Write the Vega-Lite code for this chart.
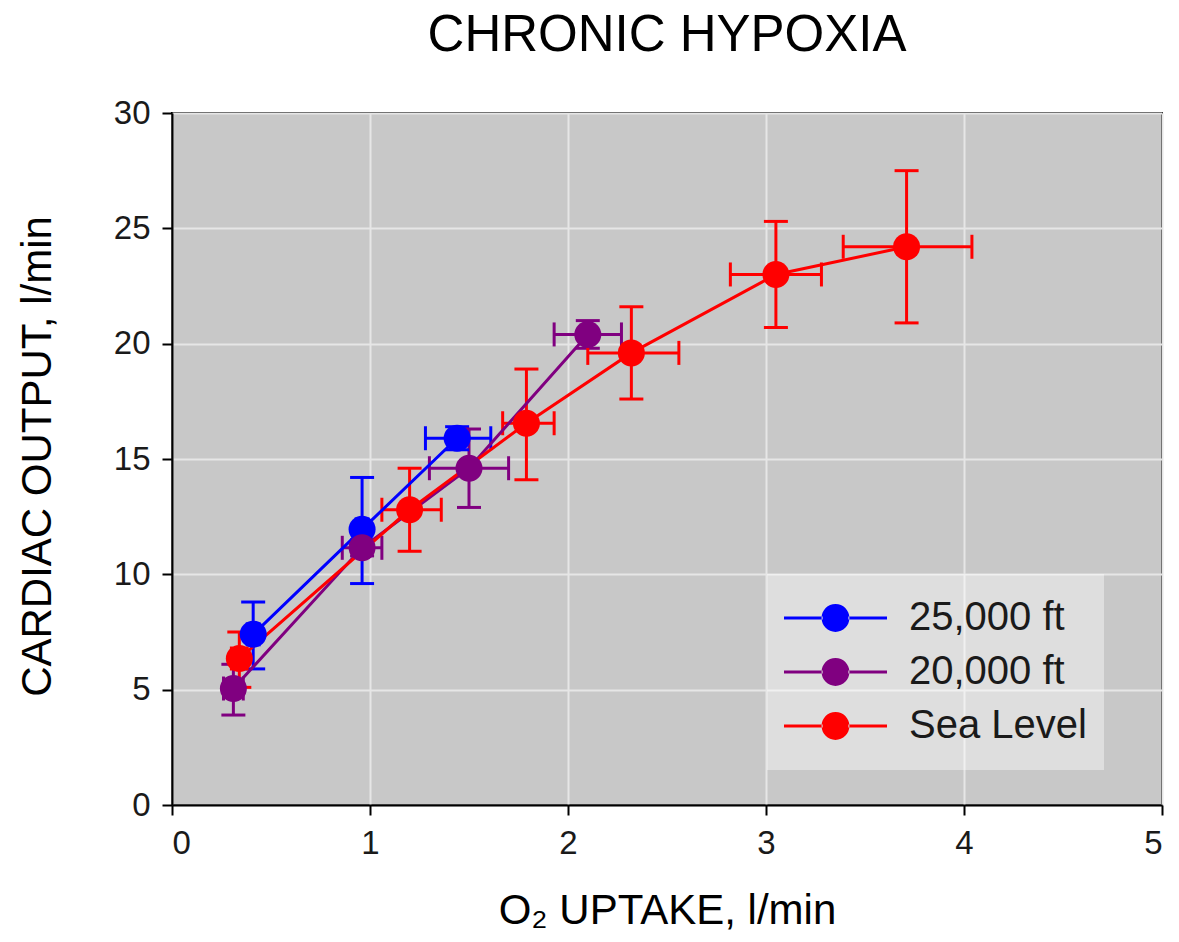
{
  "$schema": "https://vega.github.io/schema/vega-lite/v6.json",
  "width": 990,
  "height": 692,
  "autosize": {"type": "none"},
  "padding": {"left": 172, "top": 113, "right": 17, "bottom": 137},
  "background": "white",
  "title": {"text": "CHRONIC HYPOXIA", "fontSize": 51, "fontWeight": "normal", "font": "Liberation Sans", "color": "black", "anchor": "middle", "offset": 35},
  "config": {
    "font": "Liberation Sans",
    "view": {"fill": "#c8c8c8", "stroke": "black", "strokeWidth": 2},
    "axis": {
      "domainColor": "black", "domainWidth": 2, "tickColor": "black", "tickWidth": 2, "tickSize": 10,
      "labelFontSize": 33, "labelColor": "#1a1a1a", "gridColor": "#e6e6e6", "gridWidth": 2,
      "titleFontSize": 42, "titleFontWeight": "normal", "titleColor": "black"
    }
  },
  "data": {"values": [
    {"group": "25,000 ft", "x": 0.41, "y": 7.4, "xlo": 0.38, "xhi": 0.44, "ylo": 5.9, "yhi": 8.8},
    {"group": "25,000 ft", "x": 0.96, "y": 11.95, "xlo": 0.93, "xhi": 0.99, "ylo": 9.6, "yhi": 14.2},
    {"group": "25,000 ft", "x": 1.44, "y": 15.9, "xlo": 1.28, "xhi": 1.61, "ylo": 15.4, "yhi": 16.4},
    {"group": "20,000 ft", "x": 0.31, "y": 5.05, "xlo": 0.26, "xhi": 0.36, "ylo": 3.9, "yhi": 6.1},
    {"group": "20,000 ft", "x": 0.96, "y": 11.15, "xlo": 0.86, "xhi": 1.06, "ylo": 10.8, "yhi": 11.5},
    {"group": "20,000 ft", "x": 1.5, "y": 14.6, "xlo": 1.3, "xhi": 1.7, "ylo": 12.9, "yhi": 16.3},
    {"group": "20,000 ft", "x": 2.1, "y": 20.4, "xlo": 1.93, "xhi": 2.27, "ylo": 19.8, "yhi": 21.0},
    {"group": "Sea Level", "x": 0.34, "y": 6.35, "xlo": 0.3, "xhi": 0.38, "ylo": 5.1, "yhi": 7.5},
    {"group": "Sea Level", "x": 1.2, "y": 12.8, "xlo": 1.06, "xhi": 1.36, "ylo": 11.0, "yhi": 14.6},
    {"group": "Sea Level", "x": 1.79, "y": 16.55, "xlo": 1.67, "xhi": 1.93, "ylo": 14.1, "yhi": 18.9},
    {"group": "Sea Level", "x": 2.32, "y": 19.6, "xlo": 2.1, "xhi": 2.56, "ylo": 17.6, "yhi": 21.6},
    {"group": "Sea Level", "x": 3.05, "y": 23.0, "xlo": 2.82, "xhi": 3.28, "ylo": 20.7, "yhi": 25.3},
    {"group": "Sea Level", "x": 3.71, "y": 24.2, "xlo": 3.39, "xhi": 4.04, "ylo": 20.9, "yhi": 27.5}
  ]},
  "encoding": {
    "x": {"field": "x", "type": "quantitative", "scale": {"domain": [0, 5], "nice": false},
      "axis": {"values": [0, 1, 2, 3, 4, 5], "title": "O₂ UPTAKE, l/min", "labelPadding": 12, "titleBaseline": "alphabetic", "titleY": 118}},
    "y": {"field": "y", "type": "quantitative", "scale": {"domain": [0, 30], "nice": false},
      "axis": {"values": [0, 5, 10, 15, 20, 25, 30], "title": "CARDIAC OUTPUT, l/min", "labelPadding": 12, "titleX": -135, "titleY": 343, "titleBaseline": "middle"}},
    "color": {"field": "group", "type": "nominal",
      "scale": {"domain": ["25,000 ft", "20,000 ft", "Sea Level"], "range": ["#0000ff", "#800080", "#ff0000"]}}
  },
  "layer": [
    {"mark": {"type": "rule", "strokeWidth": 3},
     "encoding": {"y": {"field": "ylo", "type": "quantitative"}, "y2": {"field": "yhi"}}},
    {"mark": {"type": "rule", "strokeWidth": 3},
     "encoding": {"x": {"field": "xlo", "type": "quantitative"}, "x2": {"field": "xhi"}}},
    {"transform": [{"fold": ["ylo", "yhi"], "as": ["k", "v"]}],
     "mark": {"type": "tick", "orient": "horizontal", "size": 24, "thickness": 3, "opacity": 1},
     "encoding": {"y": {"field": "v", "type": "quantitative"}}},
    {"transform": [{"fold": ["xlo", "xhi"], "as": ["k", "v"]}],
     "mark": {"type": "tick", "orient": "vertical", "size": 24, "thickness": 3, "opacity": 1},
     "encoding": {"x": {"field": "v", "type": "quantitative"}}},
    {"mark": {"type": "line", "strokeWidth": 3}, "encoding": {}},
    {"mark": {"type": "point", "shape": "circle", "filled": true, "size": 729, "opacity": 1},
     "encoding": {"color": {"field": "group", "type": "nominal",
       "scale": {"domain": ["25,000 ft", "20,000 ft", "Sea Level"], "range": ["#0000ff", "#800080", "#ff0000"]},
       "legend": {
         "title": null, "orient": "none", "legendX": 595, "legendY": 461,
         "fillColor": "rgba(255,255,255,0.4)", "padding": 17, "rowPadding": 0, "clipHeight": 54,
         "labelFontSize": 40, "labelColor": "#1a1a1a", "labelOffset": 22, "labelLimit": 400,
         "symbolType": "M-1,-0.03L-0.25,-0.03L-0.25,0.03L-1,0.03Z M0.25,-0.03L1,-0.03L1,0.03L0.25,0.03Z M-0.27,0A0.27,0.27 0 1,0 0.27,0A0.27,0.27 0 1,0 -0.27,0Z",
         "symbolSize": 10609, "symbolStrokeWidth": 0,
         "encode": {"symbols": {"update": {"fill": {"scale": "color", "field": "value"}, "stroke": {"value": "transparent"}, "opacity": {"value": 1}}}}
       }}}}
  ]
}
